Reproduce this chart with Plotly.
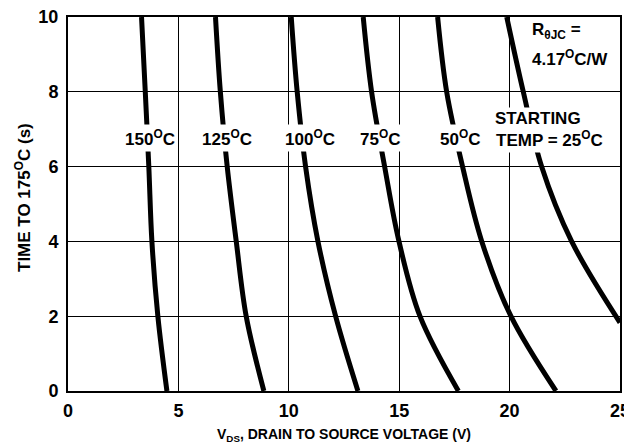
import plotly.graph_objects as go

# curve points: time to 175C (s) vs VDS (V)
time_s = [10, 8, 6, 4, 2, 0]
vds_150 = [3.33, 3.50, 3.66, 3.80, 4.07, 4.48]
vds_125 = [6.68, 6.90, 7.21, 7.62, 8.07, 8.87]
vds_100 = [10.11, 10.38, 10.76, 11.32, 12.12, 13.13]
vds_75 = [13.37, 13.75, 14.34, 14.99, 15.94, 17.68]
vds_50 = [16.74, 17.15, 17.87, 18.74, 20.06, 22.10]
time_25 = [10, 8, 6, 4, 1.83]
vds_25 = [19.87, 20.62, 21.45, 22.81, 25.0]

curve_labels = ["150<sup>O</sup>C", "125<sup>O</sup>C", "100<sup>O</sup>C", "75<sup>O</sup>C", "50<sup>O</sup>C"]
label_x = [3.7, 7.2, 10.94, 14.11, 17.74]
label_y = 6.76

FONT = "Liberation Sans, Arial, sans-serif"
BOLD = {"family": FONT, "color": "black", "weight": "bold"}


def bold_font(size):
    return dict(BOLD, size=size)


fig = go.Figure()
for xs in [vds_150, vds_125, vds_100, vds_75, vds_50]:
    fig.add_trace(go.Scatter(x=xs, y=time_s, mode="lines",
                             line={"color": "black", "width": 5, "shape": "spline"},
                             showlegend=False, hoverinfo="skip"))
fig.add_trace(go.Scatter(x=vds_25, y=time_25, mode="lines",
                         line={"color": "black", "width": 5, "shape": "spline"},
                         showlegend=False, hoverinfo="skip"))

for txt, lx in zip(curve_labels, label_x):
    fig.add_annotation(x=lx, y=label_y, text=txt, showarrow=False,
                       bgcolor="white", font=bold_font(17), borderpad=2)

# starting temperature note
fig.add_annotation(x=19.27, y=7.29, text="STARTING", showarrow=False, xanchor="left",
                   bgcolor="white", font=bold_font(17), borderpad=1)
fig.add_annotation(x=19.27, y=6.74, text="TEMP = 25<sup>O</sup>C", showarrow=False, xanchor="left",
                   bgcolor="white", font=bold_font(17), borderpad=2)
# thermal resistance note
fig.add_annotation(x=20.91, y=9.62, text="R<sub>θJC</sub> =", showarrow=False, xanchor="left",
                   bgcolor="white", font=bold_font(17), borderpad=1)
fig.add_annotation(x=20.91, y=8.9, text="4.17<sup>O</sup>C/W", showarrow=False, xanchor="left",
                   bgcolor="white", font=bold_font(17), borderpad=1)

# axis titles
fig.add_annotation(x=0.5, y=0, xref="paper", yref="paper", xanchor="center", yanchor="middle",
                   yshift=-44, text="V<sub>DS</sub>, DRAIN TO SOURCE VOLTAGE (V)", showarrow=False,
                   font=bold_font(14))
fig.add_annotation(x=0, y=0.5, xref="paper", yref="paper", xanchor="center", yanchor="middle",
                   xshift=-45, yshift=6, textangle=-90,
                   text="TIME TO 175<sup>O</sup>C (s)", showarrow=False,
                   font=bold_font(17))

# the page adds an 8px body margin, so margins are trimmed to land the plot in place
fig.update_layout(
    width=624, height=440,
    margin={"l": 60, "r": 12, "t": 9, "b": 57},
    paper_bgcolor="white", plot_bgcolor="white",
    font={"family": FONT, "color": "black", "size": 13},
)
fig.update_xaxes(range=[0, 25], dtick=5, showgrid=True, gridcolor="black", gridwidth=1.3,
                 showline=True, linecolor="black", linewidth=2, mirror=True, zeroline=False,
                 ticks="", tickfont=bold_font(18), automargin=False, ticklabelstandoff=2,
                 ticklabeloverflow="allow")
fig.update_yaxes(range=[0, 10], dtick=2, showgrid=True, gridcolor="black", gridwidth=1.3,
                 showline=True, linecolor="black", linewidth=2, mirror=True, zeroline=False,
                 ticks="", tickfont=bold_font(18), automargin=False, ticklabelstandoff=4,
                 ticklabeloverflow="allow")

fig.write_html("out.html")
